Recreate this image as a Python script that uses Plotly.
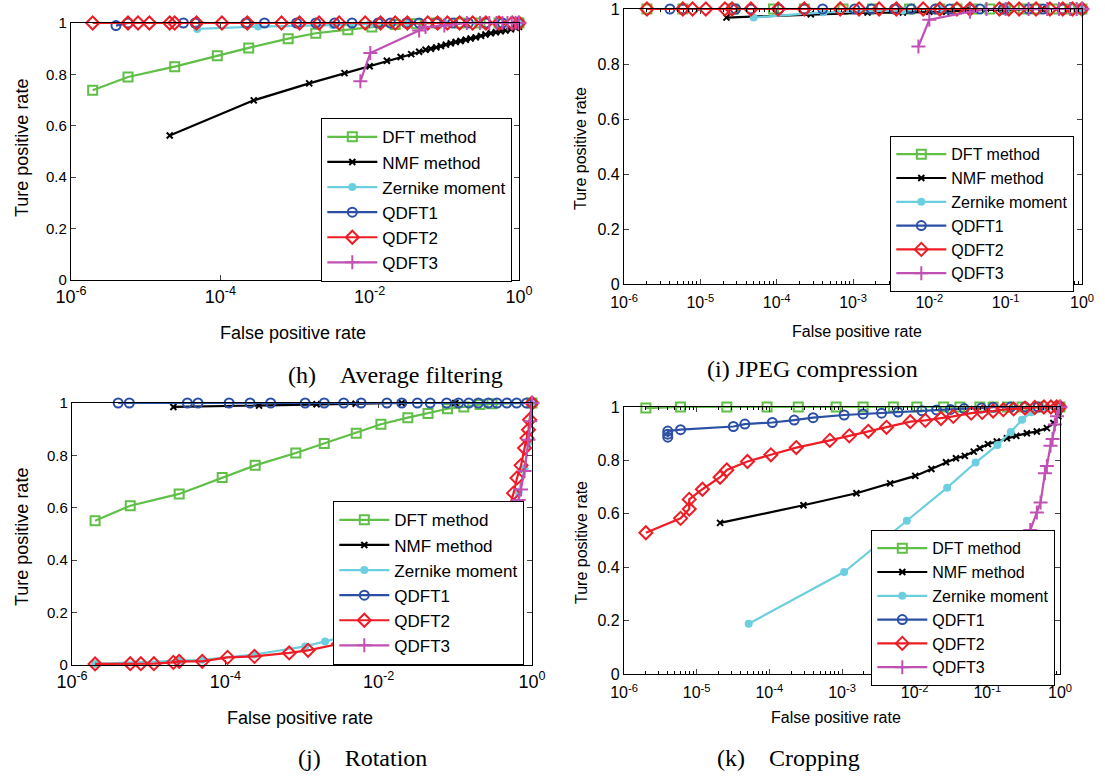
import plotly.graph_objects as go

# ---------------- data ----------------
series_names = ["DFT method", "NMF method", "Zernike moment", "QDFT1", "QDFT2", "QDFT3"]

# (h) Average filtering
h_dft_x = [1.95e-6, 5.8e-6, 2.45e-5, 9.1e-5, 2.4e-4, 8.1e-4, 1.9e-3, 5.1e-3, 1.07e-2, 2.2e-2, 4.2e-2, 7.8e-2, 0.16, 0.3, 0.54, 1.0]
h_dft_y = [0.738, 0.79, 0.83, 0.873, 0.903, 0.939, 0.96, 0.974, 0.984, 0.994, 0.997, 1, 1, 1, 1, 1]
h_nmf_x = [2.1e-5, 2.8e-4, 1.55e-3, 4.6e-3, 1.0e-2, 1.7e-2, 2.6e-2, 3.6e-2, 4.6e-2, 5.6e-2, 6.6e-2, 7.8e-2, 9.0e-2, 0.105, 0.122, 0.142, 0.165, 0.194, 0.225, 0.264, 0.31, 0.356, 0.42, 0.49, 0.57, 0.66, 0.78, 0.91, 1.0]
h_nmf_y = [0.562, 0.699, 0.765, 0.805, 0.832, 0.853, 0.868, 0.879, 0.888, 0.896, 0.9, 0.905, 0.91, 0.916, 0.921, 0.926, 0.93, 0.935, 0.94, 0.944, 0.95, 0.955, 0.96, 0.964, 0.968, 0.971, 0.976, 0.981, 0.985]
h_zer_x = [4.9e-5, 3.2e-4, 3.2e-3, 1.0e-2, 3.2e-2, 0.1, 1.0]
h_zer_y = [0.977, 0.986, 0.992, 0.996, 1, 1, 1]
h_q1_x = [4.0e-6, 5.8e-6, 3.2e-5, 4.6e-5, 2.2e-4, 3.9e-4, 1.05e-3, 1.9e-3, 3.4e-3, 5.8e-3, 1.3e-2, 1.9e-2, 3.1e-2, 4.6e-2, 7.8e-2, 0.13, 0.21, 0.36, 0.6, 1.0]
h_q1_y = [0.99, 1, 1, 1, 1, 1, 1, 1, 1, 1, 1, 1, 1, 1, 1, 1, 1, 1, 1, 1]
h_q2_x = [1.95e-6, 5.8e-6, 7.9e-6, 1.12e-5, 2.1e-5, 2.45e-5, 4.8e-5, 1.05e-4, 2.3e-4, 6.6e-4, 1.15e-3, 2.1e-3, 3.9e-3, 8.7e-3, 1.4e-2, 2.2e-2, 3.2e-2, 6.0e-2, 8.1e-2, 0.11, 0.16, 0.24, 0.36, 0.54, 0.81, 1.0]
h_q2_y = [1] * 26
h_q3_x = [7.5e-3, 1.02e-2, 4.6e-2, 5.6e-2, 0.1, 0.2, 0.3, 0.4, 0.5, 0.6, 0.7, 0.8, 0.9, 1.0]
h_q3_y = [0.773, 0.883, 0.971, 0.984, 0.99, 1, 1, 1, 1, 1, 1, 1, 1, 1]

# (i) JPEG compression
i_dft_x = [2.0e-6, 5.9e-6, 2.7e-5, 9.1e-5, 2.3e-4, 7.4e-4, 1.8e-3, 5.5e-3, 1.37e-2, 2.3e-2, 3.7e-2, 6.2e-2, 0.10, 0.17, 0.25, 0.42, 0.69, 1.0]
i_dft_y = [1] * 18
i_nmf_x = [2.2e-5, 2.8e-4, 1.55e-3, 4.5e-3, 1.0e-2, 1.66e-2, 3.0e-2, 0.1, 0.3, 1.0]
i_nmf_y = [0.969, 0.981, 0.987, 0.987, 0.99, 0.99, 0.995, 0.998, 1, 1]
i_zer_x = [5.0e-5, 4.1e-4, 4.5e-3, 1.5e-2, 0.1, 1.0]
i_zer_y = [0.969, 0.988, 0.995, 1, 1, 1]
i_q1_x = [4.0e-6, 5.9e-6, 2.9e-5, 4.6e-5, 1.07e-4, 2.3e-4, 4.0e-4, 1.05e-3, 1.74e-3, 3.5e-3, 5.8e-3, 1.2e-2, 1.85e-2, 3.4e-2, 4.6e-2, 9.3e-2, 0.2, 0.31, 0.56, 1.0]
i_q1_y = [1] * 20
i_q2_x = [2.0e-6, 5.9e-6, 7.9e-6, 1.18e-5, 2.1e-5, 2.6e-5, 4.6e-5, 1.05e-4, 2.3e-4, 6.8e-4, 1.2e-3, 2.2e-3, 3.7e-3, 8.3e-3, 1.37e-2, 2.3e-2, 3.4e-2, 8.3e-2, 0.11, 0.15, 0.25, 0.38, 0.56, 0.75, 1.0]
i_q2_y = [1] * 25
i_q3_x = [7.2e-3, 1.0e-2, 3.4e-2, 5.6e-2, 0.1, 0.2, 0.35, 0.5, 0.7, 0.85, 1.0]
i_q3_y = [0.864, 0.961, 0.99, 1, 1, 1, 1, 1, 1, 1, 1]

# (j) Rotation
j_dft_x = [2.0e-6, 5.75e-6, 2.5e-5, 9.1e-5, 2.45e-4, 8.3e-4, 1.95e-3, 5.1e-3, 1.07e-2, 2.4e-2, 4.4e-2, 7.9e-2, 0.129, 0.21, 0.3, 1.0]
j_dft_y = [0.551, 0.608, 0.653, 0.716, 0.762, 0.809, 0.845, 0.885, 0.919, 0.944, 0.96, 0.978, 0.985, 0.994, 0.997, 1]
j_nmf_x = [2.1e-5, 2.75e-4, 1.55e-3, 5.0e-3, 2.0e-2, 0.1, 1.0]
j_nmf_y = [0.985, 0.99, 0.995, 0.997, 1, 1, 1]
j_zer_x = [2.0e-6, 2.5e-5, 5.0e-5, 2.4e-4, 1.1e-3, 2.0e-3, 1.0e-2, 0.1, 0.4, 0.67, 0.8, 0.9, 1.0]
j_zer_y = [0.004, 0.016, 0.02, 0.04, 0.071, 0.09, 0.14, 0.3, 0.55, 0.66, 0.75, 0.85, 1]
j_q1_x = [4.0e-6, 5.6e-6, 3.2e-5, 4.4e-5, 1.12e-4, 2.1e-4, 3.9e-4, 1.1e-3, 1.95e-3, 3.5e-3, 5.9e-3, 1.28e-2, 2.0e-2, 3.2e-2, 4.7e-2, 7.7e-2, 0.11, 0.15, 0.2, 0.27, 0.35, 0.47, 0.63, 0.85, 1.0]
j_q1_y = [1] * 25
j_q2_x = [2.0e-6, 5.75e-6, 7.9e-6, 1.17e-5, 2.1e-5, 2.5e-5, 5.0e-5, 1.07e-4, 2.4e-4, 6.8e-4, 1.2e-3, 3.0e-3, 1.0e-2, 3.0e-2, 0.1, 0.25, 0.45, 0.575, 0.637, 0.72, 0.8, 0.86, 0.9, 0.93, 1.0]
j_q2_y = [0.004, 0.005, 0.005, 0.005, 0.01, 0.014, 0.014, 0.029, 0.033, 0.046, 0.056, 0.08, 0.12, 0.18, 0.28, 0.42, 0.55, 0.656, 0.714, 0.762, 0.828, 0.866, 0.898, 0.936, 1]
j_q3_x = [0.1, 0.4, 0.67, 0.72, 0.8, 0.9, 0.95, 1.0]
j_q3_y = [0.2, 0.45, 0.63, 0.67, 0.74, 0.86, 0.93, 1]

# (k) Cropping
k_dft_x = [2.0e-6, 6.0e-6, 2.6e-5, 9.3e-5, 2.5e-4, 8.3e-4, 1.95e-3, 5.1e-3, 1.07e-2, 2.5e-2, 4.2e-2, 7.9e-2, 0.12, 0.19, 0.3, 0.5, 1.0]
k_dft_y = [0.996, 1, 1, 1, 1, 1, 1, 1, 1, 1, 1, 1, 1, 1, 1, 1, 1]
k_nmf_x = [2.1e-5, 2.95e-4, 1.58e-3, 4.6e-3, 1.02e-2, 1.7e-2, 2.7e-2, 3.7e-2, 4.9e-2, 6.5e-2, 7.9e-2, 0.102, 0.135, 0.186, 0.25, 0.35, 0.48, 0.66, 0.81, 0.95, 1.0]
k_nmf_y = [0.566, 0.632, 0.677, 0.714, 0.742, 0.768, 0.793, 0.808, 0.817, 0.833, 0.846, 0.861, 0.871, 0.883, 0.892, 0.902, 0.908, 0.921, 0.94, 0.965, 1]
k_zer_x = [5.2e-5, 1.07e-3, 7.8e-3, 2.8e-2, 6.9e-2, 0.138, 0.21, 0.3, 0.4, 0.65, 1.0]
k_zer_y = [0.188, 0.382, 0.574, 0.698, 0.792, 0.858, 0.906, 0.952, 0.98, 0.995, 1]
k_q1_x = [4.0e-6, 4.0e-6, 4.0e-6, 6.0e-6, 3.2e-5, 4.6e-5, 1.1e-4, 2.2e-4, 4.0e-4, 1.07e-3, 1.95e-3, 3.5e-3, 5.9e-3, 1.26e-2, 2.0e-2, 3.1e-2, 4.8e-2, 8.3e-2, 0.12, 0.21, 0.33, 0.5, 1.0]
k_q1_y = [0.887, 0.898, 0.91, 0.915, 0.927, 0.936, 0.942, 0.951, 0.96, 0.97, 0.974, 0.977, 0.981, 0.986, 0.989, 0.991, 0.994, 0.996, 0.999, 1, 1, 1, 1]
k_q2_x = [2.0e-6, 6.0e-6, 7.9e-6, 7.9e-6, 1.2e-5, 2.1e-5, 2.6e-5, 5.0e-5, 1.05e-4, 2.35e-4, 6.8e-4, 1.26e-3, 2.3e-3, 4.1e-3, 8.7e-3, 1.4e-2, 2.3e-2, 3.4e-2, 6.0e-2, 8.5e-2, 0.12, 0.166, 0.23, 0.33, 0.45, 0.6, 0.75, 0.9, 1.0]
k_q2_y = [0.529, 0.583, 0.618, 0.654, 0.692, 0.737, 0.764, 0.796, 0.821, 0.848, 0.875, 0.892, 0.909, 0.924, 0.945, 0.95, 0.957, 0.965, 0.977, 0.98, 0.985, 0.99, 0.993, 0.996, 0.998, 1, 1, 1, 1]
k_q3_x = [0.3, 0.39, 0.48, 0.54, 0.62, 0.66, 0.74, 0.79, 0.85, 0.91, 1.0]
k_q3_y = [0.3, 0.539, 0.605, 0.642, 0.752, 0.779, 0.855, 0.88, 0.934, 0.965, 1]

y_ticks = [0, 0.2, 0.4, 0.6, 0.8, 1]
y_ticktext = ["0", "0.2", "0.4", "0.6", "0.8", "1"]
NB = "\u00a0"
captions = ["(h)" + NB * 4 + "Average filtering", "(i) JPEG compression",
            "(j)" + NB * 4 + "Rotation", "(k)" + NB * 4 + "Cropping"]
x_title = "False positive rate"
y_title = "Ture positive rate"

# ---------------- styles ----------------
colors = ["#5fbf47", "#000000", "#6ccfe0", "#2c4fa6", "#ee1c25", "#c050b4"]
symbols = ["square-open", "x-thin-open", "circle", "circle-open", "diamond-open", "cross-thin-open"]
msizes = [9, 6, 6, 9, 10, 10]

W, H = 1105, 776

panels = [
    dict(data=[(h_dft_x, h_dft_y), (h_nmf_x, h_nmf_y), (h_zer_x, h_zer_y), (h_q1_x, h_q1_y), (h_q2_x, h_q2_y), (h_q3_x, h_q3_y)],
         box=(71, 519, 23, 280), every=2, minor=False, legend=(512, 118), lfont=17, xfont=18, yfont=15, tfont=18,
         xt=(293, 333), yt=(22, 148), cap=(395, 375), stand=0),
    dict(data=[(i_dft_x, i_dft_y), (i_nmf_x, i_nmf_y), (i_zer_x, i_zer_y), (i_q1_x, i_q1_y), (i_q2_x, i_q2_y), (i_q3_x, i_q3_y)],
         box=(624, 1082, 9, 284), every=1, minor=True, legend=(1074, 136), lfont=16, xfont=16, yfont=16, tfont=16,
         xt=(857, 331), yt=(580, 149), cap=(812, 369), stand=4),
    dict(data=[(j_dft_x, j_dft_y), (j_nmf_x, j_nmf_y), (j_zer_x, j_zer_y), (j_q1_x, j_q1_y), (j_q2_x, j_q2_y), (j_q3_x, j_q3_y)],
         box=(72, 532, 403, 665), every=2, minor=False, legend=(524, 501), lfont=17, xfont=18, yfont=15, tfont=18,
         xt=(300, 718), yt=(22, 537), cap=(362, 758), stand=0),
    dict(data=[(k_dft_x, k_dft_y), (k_nmf_x, k_nmf_y), (k_zer_x, k_zer_y), (k_q1_x, k_q1_y), (k_q2_x, k_q2_y), (k_q3_x, k_q3_y)],
         box=(624, 1060, 407, 674), every=1, minor=True, legend=(1055, 530), lfont=16, xfont=16, yfont=16, tfont=16,
         xt=(836, 717), yt=(581, 543), cap=(788, 758), stand=4),
]

fig = go.Figure()
layout = dict(width=W, height=H, margin=dict(l=0, r=0, t=0, b=0, autoexpand=False),
              paper_bgcolor="white", plot_bgcolor="white", showlegend=True,
              font=dict(family="Liberation Sans, Arial", color="black"))
annotations = []

for pi, p in enumerate(panels):
    n = "" if pi == 0 else str(pi + 1)
    lg = "legend" if pi == 0 else "legend" + str(pi + 1)
    xa, ya = "x" + n, "y" + n
    for si, (xs, ys) in enumerate(p["data"]):
        fig.add_trace(go.Scatter(
            x=xs, y=ys, mode="lines+markers", name=series_names[si],
            xaxis=xa, yaxis=ya, legend=lg, cliponaxis=False,
            line=dict(color=colors[si], width=2.2),
            marker=dict(symbol=symbols[si], size=msizes[si], color=colors[si],
                        line=dict(color=colors[si], width=2)),
        ))
    x0, x1, y0, y1 = p["box"]
    exps = list(range(-6, 1, p["every"]))
    tv = [10.0 ** e for e in exps]
    tt = ["10<sup>%d</sup>" % e for e in exps]
    xaxis = dict(type="log", range=[-6, 0], domain=[x0 / W, x1 / W], anchor=ya,
                 tickvals=tv, ticktext=tt, ticks="inside", ticklen=5, tickwidth=1,
                 showline=True, linecolor="black", linewidth=1.2, mirror="ticks",
                 ticklabelstandoff=p["stand"],
                 showgrid=False, zeroline=False, automargin=False, tickfont=dict(size=p["xfont"]))
    if p["minor"]:
        mv = [k * 10.0 ** e for e in range(-6, 0) for k in range(2, 10)]
        xaxis["minor"] = dict(tickvals=mv, ticks="inside", ticklen=3, tickcolor="black", showgrid=False)
    yaxis = dict(range=[0, 1], domain=[1 - y1 / H, 1 - y0 / H], anchor=xa,
                 tickvals=y_ticks, ticktext=y_ticktext, ticks="inside", ticklen=5,
                 showline=True, linecolor="black", linewidth=1.2, mirror="ticks",
                 showgrid=False, zeroline=False, automargin=False, tickfont=dict(size=p["yfont"]))
    layout["xaxis" + n] = xaxis
    layout["yaxis" + n] = yaxis
    lx, ly = p["legend"]
    layout[lg] = dict(x=lx / W, y=1 - ly / H, xanchor="right", yanchor="top",
                      xref="paper", yref="paper",
                      bgcolor="white", bordercolor="black", borderwidth=1.3,
                      font=dict(size=p["lfont"]), tracegroupgap=0, itemwidth=50)
    annotations.append(dict(text=x_title, x=p["xt"][0] / W, y=1 - p["xt"][1] / H,
                            xref="paper", yref="paper", showarrow=False,
                            xanchor="center", yanchor="middle", font=dict(size=p["tfont"])))
    annotations.append(dict(text=y_title, x=p["yt"][0] / W, y=1 - p["yt"][1] / H,
                            xref="paper", yref="paper", showarrow=False, textangle=-90,
                            xanchor="center", yanchor="middle", font=dict(size=p["tfont"])))
    annotations.append(dict(text=captions[pi], x=p["cap"][0] / W, y=1 - p["cap"][1] / H,
                            xref="paper", yref="paper", showarrow=False,
                            xanchor="center", yanchor="middle",
                            font=dict(size=24, family="Liberation Serif, Times New Roman")))

layout["annotations"] = annotations
fig.update_layout(**layout)
fig.write_html("out.html", config={"displayModeBar": False},
               post_script="document.body.style.margin='0px';")
